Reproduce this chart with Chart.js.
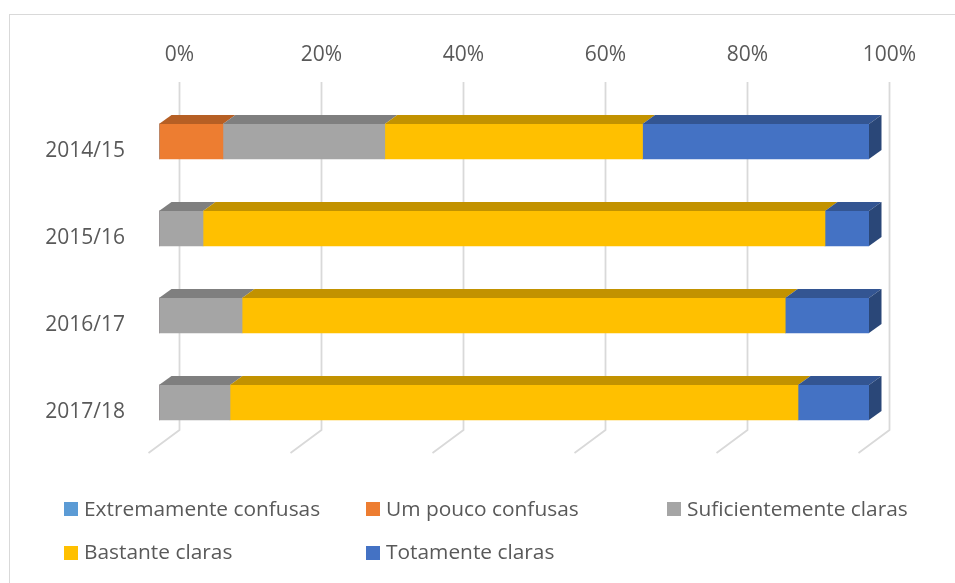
<!DOCTYPE html>
<html>
<head>
<meta charset="utf-8">
<script src="https://cdn.jsdelivr.net/npm/chart.js@4.4.1/dist/chart.umd.min.js"></script>
<style>
  body { margin: 0; background: #fff; }
  #wrap { position: relative; width: 955px; height: 583px; overflow: hidden; font-family: "Open Sans", sans-serif; }
  #frame { position: absolute; left: 9px; top: 14px; width: 1000px; height: 700px; border-left: 1.5px solid #d9d9d9; border-top: 1.5px solid #d9d9d9; }
  canvas { position: absolute; left: 0; top: 0; }
  .leg { position: absolute; height: 20px; line-height: 20px; font-size: 19.5px; color: #595959; white-space: nowrap; }
  .leg i { position: absolute; left: 0; top: 3.5px; width: 14px; height: 14px; }
  .leg span { position: absolute; left: 20px; top: 0; transform-origin: left center; transform: scaleX(1.07); }
</style>
</head>
<body>
<div id="wrap">
  <div id="frame"></div>
  <canvas id="myChart" width="955" height="583"></canvas>
  <div id="legend"></div>
</div>
<script>
// school years
const years = ['2014/15', '2015/16', '2016/17', '2017/18'];
// answers, % per year
const extremamenteConfusas = [0, 0, 0, 0];
const umPoucoConfusas = [9.0, 0, 0, 0];
const suficientementeClaras = [22.8, 6.2, 11.7, 10.0];
const bastanteClaras = [36.3, 87.6, 76.5, 80.0];
const totamenteClaras = [31.9, 6.2, 11.8, 10.0];
const xTicks = [0, 20, 40, 60, 80, 100];

const seriesNames = ['Extremamente confusas', 'Um pouco confusas', 'Suficientemente claras', 'Bastante claras', 'Totamente claras'];
const seriesData = [extremamenteConfusas, umPoucoConfusas, suficientementeClaras, bastanteClaras, totamenteClaras];
const colors = ['#5B9BD5', '#ED7D31', '#A5A5A5', '#FFC000', '#4472C4'];
const topColors = ['#43729E', '#B65F24', '#7F7F7F', '#C29200', '#335592'];
const sideColor = '#2A4778';

const DX = 12.5, DY = 9;   // bar depth
const BACK = 20.5;         // back wall offset

// gridlines on the back wall + floor
const gridPlugin = {
    id: 'grid3d',
    beforeDatasetsDraw(chart) {
        const ctx = chart.ctx, xs = chart.scales.x, area = chart.chartArea;
        ctx.save();
        ctx.strokeStyle = '#d9d9d9';
        ctx.lineWidth = 1.8;
        xTicks.forEach(v => {
            const x = xs.getPixelForValue(v) + BACK;
            ctx.beginPath();
            ctx.moveTo(x, area.top - 16);
            ctx.lineTo(x, area.bottom - 16);
            ctx.lineTo(x - 31, area.bottom + 7);
            ctx.stroke();
        });
        ctx.restore();
    }
};

// top and right faces of the bars
const facesPlugin = {
    id: 'faces3d',
    afterDatasetsDraw(chart) {
        const ctx = chart.ctx;
        ctx.save();
        chart.data.datasets.forEach((ds, di) => {
            const meta = chart.getDatasetMeta(di);
            meta.data.forEach((bar, i) => {
                const x0 = bar.base, x1 = bar.x;
                if (Math.abs(x1 - x0) < 0.5) return;
                const top = bar.y - bar.height / 2, bottom = bar.y + bar.height / 2;
                ctx.fillStyle = topColors[di];
                ctx.beginPath();
                ctx.moveTo(x0, top);
                ctx.lineTo(x1, top);
                ctx.lineTo(x1 + DX, top - DY);
                ctx.lineTo(x0 + DX, top - DY);
                ctx.closePath();
                ctx.fill();
                if (di === chart.data.datasets.length - 1) {
                    ctx.fillStyle = sideColor;
                    ctx.beginPath();
                    ctx.moveTo(x1, top);
                    ctx.lineTo(x1 + DX, top - DY);
                    ctx.lineTo(x1 + DX, bottom - DY);
                    ctx.lineTo(x1, bottom);
                    ctx.closePath();
                    ctx.fill();
                }
            });
        });
        ctx.restore();
    }
};

const ctx = document.getElementById('myChart').getContext('2d');
const chart = new Chart(ctx, {
    type: 'bar',
    data: {
        labels: years,
        datasets: seriesNames.map((name, i) => ({
            label: name,
            data: seriesData[i],
            backgroundColor: colors[i],
            borderWidth: 0,
            barThickness: 35
        }))
    },
    options: {
        indexAxis: 'y',
        responsive: false,
        animation: false,
        layout: { padding: { left: 0, top: 0, right: 86, bottom: 137 } },
        plugins: { legend: { display: false }, tooltip: { enabled: false } },
        scales: {
            x: {
                position: 'top',
                stacked: true,
                min: 0,
                max: 100,
                grid: { display: false },
                border: { display: false },
                afterFit: scale => { scale.height = 98; },
                ticks: {
                    stepSize: 20,
                    padding: 22,
                    labelOffset: BACK,
                    color: '#595959',
                    font: { family: 'Open Sans', size: 21 },
                    callback: v => v + '%'
                }
            },
            y: {
                stacked: true,
                grid: { display: false },
                border: { display: false },
                afterFit: scale => { scale.width = 159; },
                ticks: {
                    padding: 26,
                    labelOffset: 10,
                    color: '#595959',
                    font: { family: 'Open Sans', size: 21 }
                }
            }
        }
    },
    plugins: [gridPlugin, facesPlugin]
});

// legend, three columns
const legend = document.getElementById('legend');
seriesNames.forEach((name, i) => {
    const item = document.createElement('div');
    item.className = 'leg';
    item.style.left = (64 + (i % 3) * 301.5) + 'px';
    item.style.top = (498.5 + Math.floor(i / 3) * 43.5) + 'px';
    item.innerHTML = '<i style="background:' + colors[i] + '"></i><span>' + name + '</span>';
    legend.appendChild(item);
});
</script>
</body>
</html>
